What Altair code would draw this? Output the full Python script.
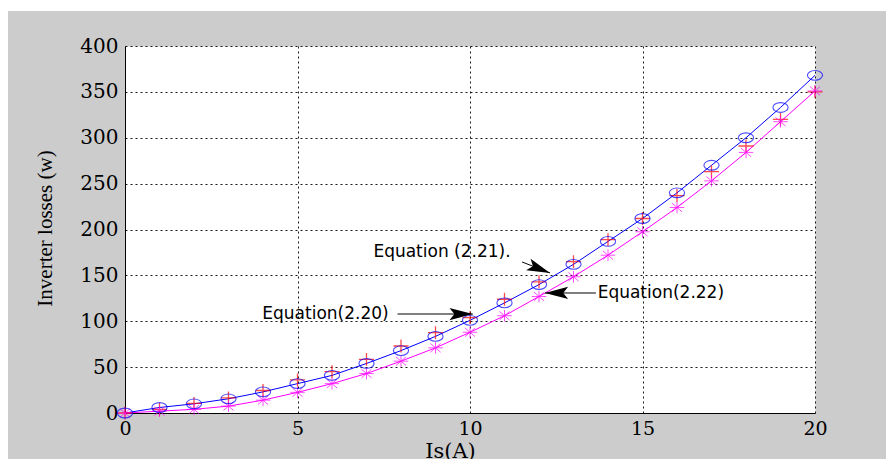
import altair as alt
import pandas as pd

# ---- data ----
current = list(range(0, 21))
eq_221_blue = [0, 6, 10, 15.5, 23, 32, 41, 54, 68, 83.5, 101, 120, 140, 162, 187, 212, 240, 270, 300, 333, 368]
eq_220_red = [0, 4, 10.5, 16.5, 24.5, 36, 45, 58.5, 73, 87.5, 104, 124, 143, 165, 189, 212, 237, 263, 291, 320, 350]
eq_222_magenta = [0, 2, 4, 7.5, 14, 22.5, 32, 43, 56.5, 71, 88, 106, 127, 148.5, 172, 197.5, 224, 253, 284, 317.5, 351]

x_ticks = [0, 5, 10, 15, 20]
y_ticks = [0, 50, 100, 150, 200, 250, 300, 350, 400]

ann_labels = ["Equation (2.21).", "Equation(2.20)", "Equation(2.22)"]
ann_text_x = [7.2, 3.98, 13.7]
ann_text_y = [175.5, 107.9, 130.8]
ann_tail_x = [11.51, 7.9, 13.65]
ann_tail_y = [164.6, 107.9, 130.8]
ann_tip_x = [12.32, 10.08, 12.17]
ann_tip_y = [152.6, 107.9, 130.8]
ann_angle = [21.4, 0, 180]

df = pd.DataFrame({"x": current, "blue": eq_221_blue, "red": eq_220_red, "mag": eq_222_magenta})
ann = pd.DataFrame({"label": ann_labels, "tx": ann_text_x, "ty": ann_text_y,
                    "x1": ann_tail_x, "y1": ann_tail_y, "x2": ann_tip_x, "y2": ann_tip_y,
                    "ang": ann_angle})
one = pd.DataFrame({"k": [0]})

W, H = 690, 367

xs = alt.Scale(domain=[0, 20], nice=False)
ys = alt.Scale(domain=[0, 400], nice=False)

x_axis = alt.Axis(values=x_ticks, title="Is(A)", grid=True, ticks=False,
                  labelFont="DejaVu Serif", labelFontSize=19, labelColor="black",
                  labelPadding=6, labelFlush=False,
                  titleFont="DejaVu Serif", titleFontSize=21, titleFontWeight="normal",
                  titleColor="black", titleX=325, titleY=44, titleBaseline="alphabetic",
                  titleAlign="center",
                  domainColor="black", domainWidth=1,
                  gridColor="black", gridDash=[2, 3], gridWidth=1, gridOpacity=0.9)
y_axis = alt.Axis(values=y_ticks, title="Inverter losses (w)", grid=True, ticks=False,
                  labelFont="DejaVu Serif", labelFontSize=20, labelColor="black",
                  labelPadding=7, labelFlush=False, labelBaseline="middle",
                  titleFont="Liberation Serif", titleFontSize=21, titleFontWeight="normal",
                  titleColor="black", titleAngle=-90, titleX=-74, titleY=182,
                  titleBaseline="alphabetic", titleAlign="center",
                  domainColor="black", domainWidth=1,
                  gridColor="black", gridDash=[2, 3], gridWidth=1, gridOpacity=0.9)

# white strips at top/left of the figure (rest is the grey figure background)
top_strip = alt.Chart(one).mark_rect(color="white").encode(
    x=alt.value(-125), x2=alt.value(761), y=alt.value(-46), y2=alt.value(-35))
left_strip = alt.Chart(one).mark_rect(color="white").encode(
    x=alt.value(-125), x2=alt.value(-117), y=alt.value(-46), y2=alt.value(413))

base = alt.Chart(df)

blue_line = base.mark_line(color="#0000ff", strokeWidth=1).encode(
    x=alt.X("x:Q", scale=xs, axis=x_axis), y=alt.Y("blue:Q", scale=ys, axis=y_axis))
mag_line = base.mark_line(color="#ff00ff", strokeWidth=1).encode(
    x=alt.X("x:Q", scale=xs), y=alt.Y("mag:Q", scale=ys))

ellipse = "M-1,0A1,0.64 0 1,0 1,0A1,0.64 0 1,0 -1,0Z"
plus = "M-1,0L1,0M0,-0.85L0,0.85"
star = "M-1,0L1,0M0,-0.8L0,0.8M-0.7,-0.6L0.7,0.6M-0.7,0.6L0.7,-0.6"

red_pts = base.mark_point(shape=plus, size=230, color="#ff0000", strokeWidth=1.3, filled=False).encode(
    x=alt.X("x:Q", scale=xs), y=alt.Y("red:Q", scale=ys))
mag_pts = base.mark_point(shape=star, size=210, color="#ff00ff", strokeWidth=1, filled=False).encode(
    x=alt.X("x:Q", scale=xs), y=alt.Y("mag:Q", scale=ys))
blue_pts = base.mark_point(shape=ellipse, size=230, color="#0000ff", strokeWidth=1.1, filled=False).encode(
    x=alt.X("x:Q", scale=xs), y=alt.Y("blue:Q", scale=ys))

abase = alt.Chart(ann)
ann_text = abase.mark_text(font="DejaVu Sans", fontSize=17, color="black", baseline="middle", align="left").encode(
    x=alt.X("tx:Q", scale=xs), y=alt.Y("ty:Q", scale=ys), text="label:N")
ann_rule = abase.mark_rule(color="black", strokeWidth=1).encode(
    x=alt.X("x1:Q", scale=xs), y=alt.Y("y1:Q", scale=ys),
    x2="x2:Q", y2="y2:Q")
arrow_head = "M0,0L-1.9,-0.5L-1.5,0L-1.9,0.5Z"
ann_head = abase.mark_point(shape=arrow_head, size=600, color="black", filled=True, opacity=1).encode(
    x=alt.X("x2:Q", scale=xs), y=alt.Y("y2:Q", scale=ys), angle=alt.Angle("ang:Q", scale=None))

chart = alt.layer(top_strip, left_strip, blue_line, mag_line, red_pts, mag_pts, blue_pts,
                  ann_rule, ann_head, ann_text).properties(
    width=W, height=H,
    autosize=alt.AutoSizeParams(type="none"),
    padding={"left": 125, "top": 46, "right": 71, "bottom": 46},
    background="#cccccc",
).configure_view(fill="white", strokeOpacity=0)

chart.save("out.html", embed_options={"renderer": "svg", "actions": False})
